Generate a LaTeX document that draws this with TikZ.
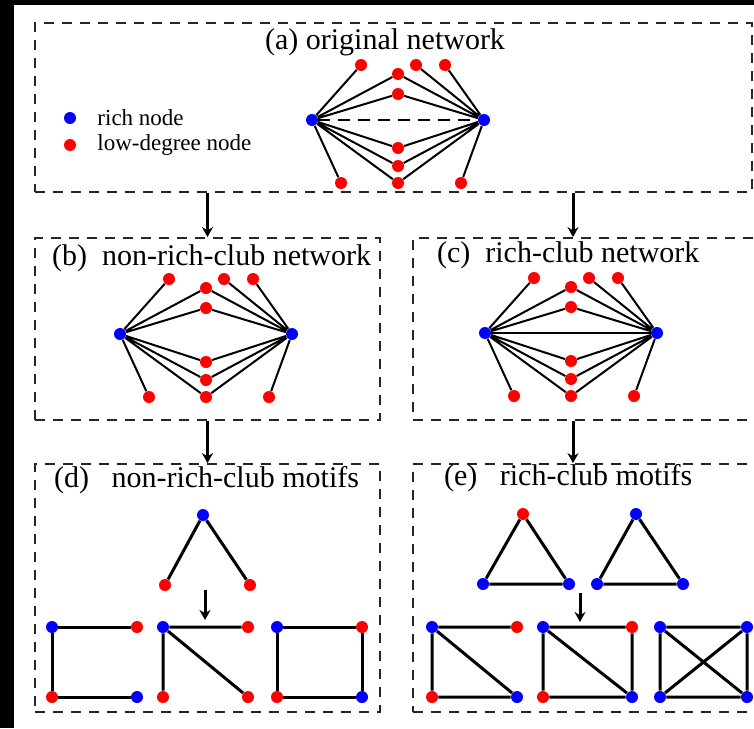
\documentclass[tikz,border=0pt]{standalone}
\usepackage{fontspec}
\setmainfont{Liberation Serif}
\usetikzlibrary{positioning,arrows.meta,fit}

\begin{document}
\begin{tikzpicture}[x=0.5pt,y=-0.5pt,>=Stealth,
  every node/.style={font=\fontsize{15}{18}\selectfont},
  rich/.style={circle,fill=blue,inner sep=0pt,minimum size=6pt},
  low/.style={circle,fill=red,inner sep=0pt,minimum size=6pt},
  panel/.style={draw=black!85,line width=0.9pt,dash pattern=on 5pt off 4pt,inner sep=0pt},
  link/.style={line width=1pt},
  mlink/.style={line width=1.5pt},
  flow/.style={line width=1.5pt,-{Stealth[length=5pt,width=5.5pt]}}]
  \useasboundingbox (0,0) rectangle (754,728);
  \clip (0,0) rectangle (754,728);
  \fill[black] (0,0) rectangle (754,728);
  \fill[white] (14,5) rectangle (760,730);
  % panels
  \node[panel,fit={(35,23) (752,192)}] (A) {};
  \node[panel,fit={(35,238) (380,420)}] (B) {};
  \node[panel,fit={(413,238) (762,420)}] (C) {};
  \node[panel,fit={(35,464) (380,712)}] (D) {};
  \node[panel,fit={(413,464) (762,712)}] (E) {};
  \coordinate (cx) at (573,0);
  \draw[flow] (A.south -| B.north) -- (B.north);
  \draw[flow] (A.south -| cx) -- (C.north -| cx);
  \draw[flow] (B.south) -- (D.north);
  \draw[flow] (C.south -| cx) -- (E.north -| cx);
  % (a) original network
  \node at (385,42) {(a) original network};
  \node[rich] (k1) at (70,118) {};
  \node[low] (k2) at (70,145) {};
  \node[right=7pt of k1,font=\fontsize{11.5}{13}\selectfont] {rich node};
  \node[right=7pt of k2,font=\fontsize{11.5}{13}\selectfont] {low-degree node};
  \begin{scope}[shift={(312,120)}]
  \node[rich] (La) at (0,0) {};
  \node[rich] (Ra) at (172,0) {};
  \node[low] (ta1) at (49,-55) {};
  \node[low] (ta2) at (104,-55) {};
  \node[low] (ta3) at (133,-55) {};
  \node[low] (ca1) at (86,-46) {};
  \node[low] (ca2) at (86,-26) {};
  \node[low] (ca3) at (86,28) {};
  \node[low] (ca4) at (86,46) {};
  \node[low] (ca5) at (86,63) {};
  \node[low] (ba1) at (29,63) {};
  \node[low] (ba2) at (149,63) {};
  \draw[link] (La) -- (ta1) (La) -- (ca1) (La) -- (ca2) (La) -- (ca3)
    (La) -- (ca4) (La) -- (ca5) (La) -- (ba1);
  \draw[link] (Ra) -- (ta2) (Ra) -- (ta3) (Ra) -- (ca1) (Ra) -- (ca2)
    (Ra) -- (ca3) (Ra) -- (ca4) (Ra) -- (ca5) (Ra) -- (ba2);
  \draw[line width=1.2pt,dash pattern=on 6pt off 4pt] (La) -- (Ra);
  \end{scope}
  % (b) non-rich-club network
  \node[anchor=west] at (45,258) {(b)\ \ non-rich-club network};
  \begin{scope}[shift={(120,334)}]
  \node[rich] (Lb) at (0,0) {};
  \node[rich] (Rb) at (172,0) {};
  \node[low] (tb1) at (49,-55) {};
  \node[low] (tb2) at (104,-55) {};
  \node[low] (tb3) at (133,-55) {};
  \node[low] (cb1) at (86,-46) {};
  \node[low] (cb2) at (86,-26) {};
  \node[low] (cb3) at (86,28) {};
  \node[low] (cb4) at (86,46) {};
  \node[low] (cb5) at (86,63) {};
  \node[low] (bb1) at (29,63) {};
  \node[low] (bb2) at (149,63) {};
  \draw[link] (Lb) -- (tb1) (Lb) -- (cb1) (Lb) -- (cb2) (Lb) -- (cb3)
    (Lb) -- (cb4) (Lb) -- (cb5) (Lb) -- (bb1);
  \draw[link] (Rb) -- (tb2) (Rb) -- (tb3) (Rb) -- (cb1) (Rb) -- (cb2)
    (Rb) -- (cb3) (Rb) -- (cb4) (Rb) -- (cb5) (Rb) -- (bb2);
  \end{scope}
  % (c) rich-club network
  \node[anchor=west] at (430,255) {(c)\ \ rich-club network};
  \begin{scope}[shift={(485,333)}]
  \node[rich] (Lc) at (0,0) {};
  \node[rich] (Rc) at (172,0) {};
  \node[low] (tc1) at (49,-55) {};
  \node[low] (tc2) at (104,-55) {};
  \node[low] (tc3) at (133,-55) {};
  \node[low] (cc1) at (86,-46) {};
  \node[low] (cc2) at (86,-26) {};
  \node[low] (cc3) at (86,28) {};
  \node[low] (cc4) at (86,46) {};
  \node[low] (cc5) at (86,63) {};
  \node[low] (bc1) at (29,63) {};
  \node[low] (bc2) at (149,63) {};
  \draw[link] (Lc) -- (tc1) (Lc) -- (cc1) (Lc) -- (cc2) (Lc) -- (cc3)
    (Lc) -- (cc4) (Lc) -- (cc5) (Lc) -- (bc1);
  \draw[link] (Rc) -- (tc2) (Rc) -- (tc3) (Rc) -- (cc1) (Rc) -- (cc2)
    (Rc) -- (cc3) (Rc) -- (cc4) (Rc) -- (cc5) (Rc) -- (bc2);
  \draw[link] (Lc) -- (Rc);
  \end{scope}
  % (d) non-rich-club motifs
  \node[anchor=west] at (47,480) {(d)\ \ \ non-rich-club motifs};
  \node[rich] (d0) at (203,515) {};
  \node[low] (d1) at (165,585) {};
  \node[low] (d2) at (250,585) {};
  \draw[mlink] (d1) -- (d0) -- (d2);
  \coordinate (dA) at (205,590);
  \coordinate (dB) at (205,620);
  \draw[flow] (dA) -- (dB);
  \node[rich] (p1) at (52,627) {};
  \node[low] (p2) at (137,627) {};
  \node[low] (p3) at (52,697) {};
  \node[rich] (p4) at (137,697) {};
  \draw[mlink] (p2) -- (p1) -- (p3) -- (p4);
  \node[rich] (q1) at (163,627) {};
  \node[low] (q2) at (248,627) {};
  \node[low] (q3) at (163,697) {};
  \node[low] (q4) at (248,697) {};
  \draw[mlink] (q2) -- (q1) -- (q3) (q1) -- (q4);
  \node[rich] (r1) at (277,627) {};
  \node[low] (r2) at (362,627) {};
  \node[low] (r3) at (277,697) {};
  \node[rich] (r4) at (362,697) {};
  \draw[mlink] (r1) -- (r2) -- (r4) -- (r3) -- (r1);
  % (e) rich-club motifs
  \node[anchor=west] at (437,478) {(e)\ \ \ rich-club motifs};
  \node[low] (e0) at (523,514) {};
  \node[rich] (e1) at (483,584) {};
  \node[rich] (e2) at (569,584) {};
  \draw[mlink] (e0) -- (e1) -- (e2) -- (e0);
  \node[rich] (f0) at (636,514) {};
  \node[rich] (f1) at (597,584) {};
  \node[rich] (f2) at (683,584) {};
  \draw[mlink] (f0) -- (f1) -- (f2) -- (f0);
  \coordinate (eA) at (580,593);
  \coordinate (eB) at (580,622);
  \draw[flow] (eA) -- (eB);
  \node[rich] (s1) at (432,627) {};
  \node[low] (s2) at (517,627) {};
  \node[low] (s3) at (432,697) {};
  \node[rich] (s4) at (517,697) {};
  \draw[mlink] (s2) -- (s1) -- (s3) -- (s4) (s1) -- (s4);
  \node[rich] (u1) at (543,627) {};
  \node[low] (u2) at (632,627) {};
  \node[low] (u3) at (543,697) {};
  \node[rich] (u4) at (632,697) {};
  \draw[mlink] (u1) -- (u2) -- (u4) -- (u3) -- (u1) (u1) -- (u4);
  \node[rich] (v1) at (660,627) {};
  \node[rich] (v2) at (747,627) {};
  \node[rich] (v3) at (660,697) {};
  \node[rich] (v4) at (747,697) {};
  \draw[mlink] (v1) -- (v2) -- (v4) -- (v3) -- (v1) (v1) -- (v4) (v2) -- (v3);
\end{tikzpicture}
\end{document}
